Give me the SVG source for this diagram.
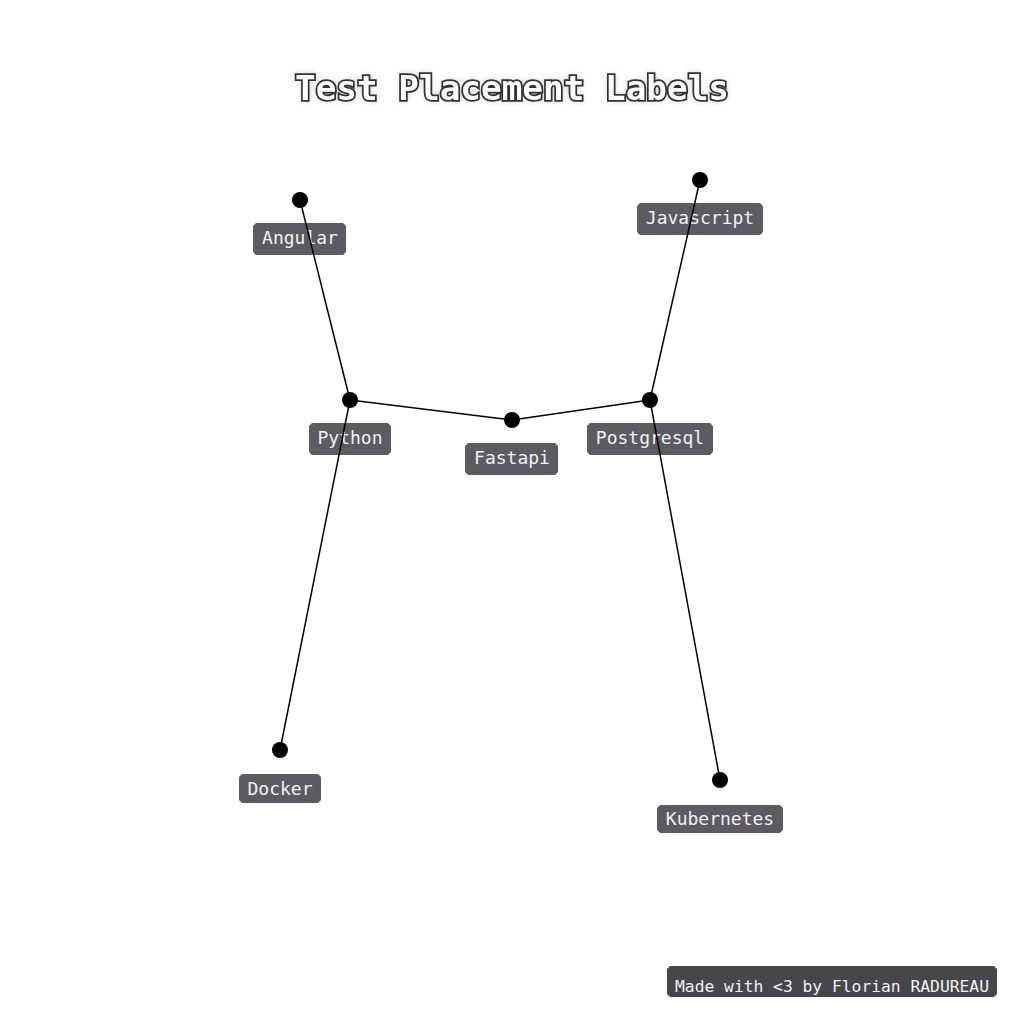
<svg xmlns="http://www.w3.org/2000/svg" width="1024" height="1024" viewBox="0 0 1024 1024">
<defs>
<filter id="glow" x="-10%" y="-50%" width="120%" height="200%">
<feGaussianBlur in="SourceAlpha" stdDeviation="3"/>
<feComponentTransfer><feFuncA type="linear" slope="0.15"/></feComponentTransfer>
<feMerge><feMergeNode/><feMergeNode in="SourceGraphic"/></feMerge>
</filter>
</defs>
<style>
.lbl{fill:#5b5b61}
.lt{font-family:"DejaVu Sans Mono","Liberation Mono",monospace;font-size:18px;fill:#f2f2f2;text-anchor:middle}
.dot{fill:#000}
.edge{stroke:#000;stroke-width:1.5;fill:none}
.title{font-family:"DejaVu Sans Mono","Liberation Mono",monospace;font-weight:bold;font-size:34px;fill:#fff;stroke:#333;stroke-width:3.5;paint-order:stroke;text-anchor:middle}
</style>
<rect width="1024" height="1024" fill="#fff"/>
<text class="title" x="512" y="100" filter="url(#glow)" textLength="434" lengthAdjust="spacingAndGlyphs">Test Placement Labels</text>
<g id="labels">
<g id="label-angular"><path class="lbl" d="M256,223 H343 L346,226 V252 L343,255 H256 L253,252 V226 Z"/><text class="lt" x="300" y="244">Angular</text></g>
<g id="label-javascript"><path class="lbl" d="M640,203 H760 L763,206 V232 L760,235 H640 L637,232 V206 Z"/><text class="lt" x="700" y="224">Javascript</text></g>
<g id="label-python"><path class="lbl" d="M312,423 H388 L391,426 V452 L388,455 H312 L309,452 V426 Z"/><text class="lt" x="350" y="444">Python</text></g>
<g id="label-fastapi"><path class="lbl" d="M468,443 H555 L558,446 V472 L555,475 H468 L465,472 V446 Z"/><text class="lt" x="512" y="464">Fastapi</text></g>
<g id="label-postgresql"><path class="lbl" d="M590,423 H710 L713,426 V452 L710,455 H590 L587,452 V426 Z"/><text class="lt" x="650" y="444">Postgresql</text></g>
<g id="label-docker"><path class="lbl" d="M242,774 H318 L321,777 V800 L318,803 H242 L239,800 V777 Z"/><text class="lt" x="280" y="795">Docker</text></g>
<g id="label-kubernetes"><path class="lbl" d="M660,805 H780 L783,808 V830 L780,833 H660 L657,830 V808 Z"/><text class="lt" x="720" y="825">Kubernetes</text></g>
</g>
<g id="connectors">
<line class="edge" x1="300" y1="200" x2="350" y2="400"/>
<line class="edge" x1="350" y1="400" x2="512" y2="420"/>
<line class="edge" x1="512" y1="420" x2="650" y2="400"/>
<line class="edge" x1="650" y1="400" x2="700" y2="180"/>
<line class="edge" x1="350" y1="400" x2="280" y2="750"/>
<line class="edge" x1="650" y1="400" x2="720" y2="780"/>
</g>
<g id="node-angular"><circle class="dot" cx="300" cy="200" r="8"/></g>
<g id="node-javascript"><circle class="dot" cx="700" cy="180" r="8"/></g>
<g id="node-python"><circle class="dot" cx="350" cy="400" r="8"/></g>
<g id="node-fastapi"><circle class="dot" cx="512" cy="420" r="8"/></g>
<g id="node-postgresql"><circle class="dot" cx="650" cy="400" r="8"/></g>
<g id="node-docker"><circle class="dot" cx="280" cy="750" r="8"/></g>
<g id="node-kubernetes"><circle class="dot" cx="720" cy="780" r="8"/></g>
<g id="footer">
<path d="M670,966 H994 L997,969 V994 L994,997 H670 L667,994 V969 Z" fill="#46464b"/>
<text x="832" y="992" font-family="DejaVu Sans Mono, Liberation Mono, monospace" font-size="16" fill="#f2f2f2" text-anchor="middle" textLength="314" lengthAdjust="spacingAndGlyphs">Made with &lt;3 by Florian RADUREAU</text>
</g>
</svg>
